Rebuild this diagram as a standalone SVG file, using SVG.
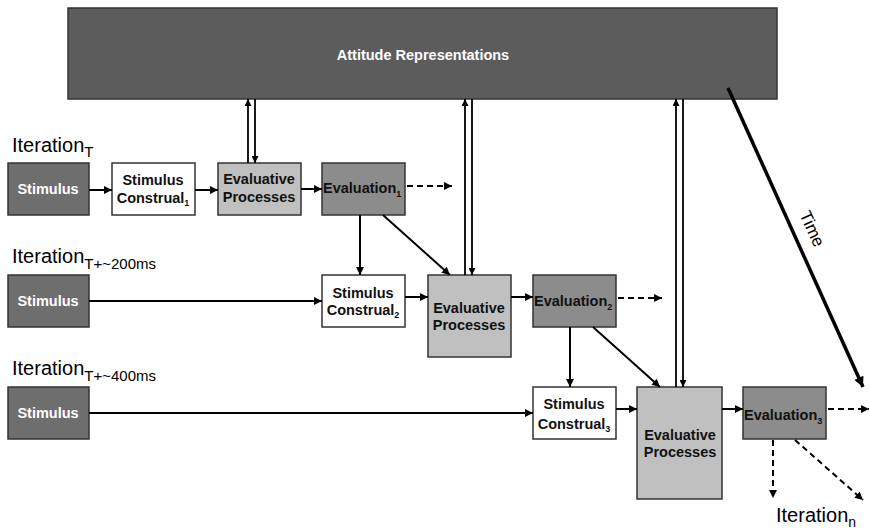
<svg xmlns="http://www.w3.org/2000/svg" width="870" height="532" viewBox="0 0 870 532">
<defs>
<marker id="ah" viewBox="0 0 10 10" refX="10" refY="5" markerWidth="9" markerHeight="8" markerUnits="userSpaceOnUse" orient="auto"><path d="M0,0 L10,5 L0,10 z" fill="#000"/></marker>
<marker id="ahs" viewBox="0 0 10 10" refX="10" refY="5" markerWidth="8" markerHeight="7" markerUnits="userSpaceOnUse" orient="auto"><path d="M0,0 L10,5 L0,10 z" fill="#000"/></marker>
<marker id="ahb" viewBox="0 0 10 10" refX="10" refY="5" markerWidth="12" markerHeight="10" markerUnits="userSpaceOnUse" orient="auto"><path d="M0,0 L10,5 L0,10 z" fill="#000"/></marker>
</defs>
<style>
.box{stroke:#333;stroke-width:1.5}
.stim{fill:#6e6e6e}
.cons{fill:#fff}
.proc{fill:#c0c0c0}
.eval{fill:#8c8c8c}
.bar{fill:#5c5c5c}
.t{font-family:"Liberation Sans",Arial,sans-serif;font-weight:bold;font-size:14.5px;fill:#111}
.tw{font-family:"Liberation Sans",Arial,sans-serif;font-weight:bold;font-size:14.5px;fill:#fff}
.lab{font-family:"Liberation Sans",Arial,sans-serif;font-size:20px;fill:#000}
.c{stroke:#000;stroke-width:2;fill:none;marker-end:url(#ah)}
.d{stroke:#000;stroke-width:2;fill:none;stroke-dasharray:6,4;marker-end:url(#ah)}
.dl{stroke:#000;stroke-width:1.8;fill:none;marker-end:url(#ahs)}
</style>

<g id="attitude">
<rect class="box bar" x="68" y="8" width="709" height="91"/>
<text class="tw" x="423" y="60" text-anchor="middle" font-size="15">Attitude Representations</text>
</g>

<g id="labels">
<text class="lab" x="12" y="152">Iteration<tspan font-size="15" dy="5">T</tspan></text>
<text class="lab" x="12" y="263">Iteration<tspan font-size="15" dy="6">T+~200ms</tspan></text>
<text class="lab" x="12" y="375">Iteration<tspan font-size="15" dy="6">T+~400ms</tspan></text>
<text class="lab" x="776" y="522">Iteration<tspan font-size="14" dy="5">n</tspan></text>
</g>

<g id="stimulus1"><rect class="box stim" x="8" y="163" width="81" height="52"/><text class="tw" x="48" y="194" text-anchor="middle">Stimulus</text></g>
<g id="construal1"><rect class="box cons" x="112" y="163" width="83" height="52"/><text class="t" x="153" y="185" text-anchor="middle">Stimulus</text><text class="t" x="153" y="203" text-anchor="middle">Construal<tspan font-size="9" dy="3">1</tspan></text></g>
<g id="process1"><rect class="box proc" x="218" y="163" width="83" height="52"/><text class="t" x="259" y="184" text-anchor="middle">Evaluative</text><text class="t" x="259" y="202" text-anchor="middle">Processes</text></g>
<g id="evaluation1"><rect class="box eval" x="322" y="163" width="83" height="52"/><text class="t" x="323" y="193">Evaluation<tspan font-size="9" dy="4">1</tspan></text></g>

<g id="stimulus2"><rect class="box stim" x="8" y="275" width="81" height="52"/><text class="tw" x="48" y="306" text-anchor="middle">Stimulus</text></g>
<g id="construal2"><rect class="box cons" x="322" y="275" width="83" height="52"/><text class="t" x="363" y="298" text-anchor="middle">Stimulus</text><text class="t" x="363" y="315" text-anchor="middle">Construal<tspan font-size="9" dy="3">2</tspan></text></g>
<g id="process2"><rect class="box proc" x="428" y="275" width="83" height="82"/><text class="t" x="469" y="313" text-anchor="middle">Evaluative</text><text class="t" x="469" y="330" text-anchor="middle">Processes</text></g>
<g id="evaluation2"><rect class="box eval" x="533" y="275" width="83" height="52"/><text class="t" x="534" y="306">Evaluation<tspan font-size="9" dy="4">2</tspan></text></g>

<g id="stimulus3"><rect class="box stim" x="8" y="387" width="81" height="52"/><text class="tw" x="48" y="418" text-anchor="middle">Stimulus</text></g>
<g id="construal3"><rect class="box cons" x="533" y="387" width="83" height="52"/><text class="t" x="574" y="409" text-anchor="middle">Stimulus</text><text class="t" x="574" y="429" text-anchor="middle">Construal<tspan font-size="9" dy="3">3</tspan></text></g>
<g id="process3"><rect class="box proc" x="637" y="387" width="85" height="112"/><text class="t" x="680" y="440" text-anchor="middle">Evaluative</text><text class="t" x="680" y="457" text-anchor="middle">Processes</text></g>
<g id="evaluation3"><rect class="box eval" x="743" y="387" width="83" height="52"/><text class="t" x="744" y="420">Evaluation<tspan font-size="9" dy="4">3</tspan></text></g>

<g id="connectors">
<line class="c" x1="89" y1="190" x2="112" y2="190"/>
<line class="c" x1="195" y1="190" x2="218" y2="190"/>
<line class="c" x1="301" y1="189" x2="322" y2="189"/>
<line class="d" x1="407" y1="186" x2="452" y2="186"/>

<line class="c" x1="89" y1="301" x2="322" y2="301"/>
<line class="c" x1="405" y1="297" x2="428" y2="297"/>
<line class="c" x1="511" y1="297" x2="533" y2="297"/>
<line class="d" x1="618" y1="298" x2="662" y2="298"/>

<line class="c" x1="89" y1="413" x2="533" y2="413"/>
<line class="c" x1="616" y1="409" x2="637" y2="409"/>
<line class="c" x1="722" y1="409" x2="743" y2="409"/>
<line class="d" x1="828" y1="409" x2="869" y2="409"/>

<line class="c" x1="360" y1="215" x2="360" y2="275"/>
<line class="c" x1="383" y1="215" x2="450" y2="275"/>
<line class="c" x1="570" y1="327" x2="570" y2="387"/>
<line class="c" x1="593" y1="327" x2="660" y2="387"/>

<line class="d" x1="773" y1="440" x2="773" y2="498"/>
<line class="d" x1="795" y1="440" x2="863" y2="500"/>

<line class="dl" x1="248" y1="163" x2="248" y2="99"/>
<line class="dl" x1="255" y1="99" x2="255" y2="163"/>
<line class="dl" x1="465" y1="275" x2="465" y2="99"/>
<line class="dl" x1="472" y1="99" x2="472" y2="275"/>
<line class="dl" x1="676" y1="387" x2="676" y2="99"/>
<line class="dl" x1="683" y1="99" x2="683" y2="387"/>

<line x1="728" y1="88" x2="863" y2="387" stroke="#000" stroke-width="3.5" marker-end="url(#ahb)"/>
</g>

<g id="time">
<text font-family="Liberation Sans, Arial, sans-serif" font-size="17" fill="#000" text-anchor="middle" dominant-baseline="central" transform="translate(812,229) rotate(65.7)">Time</text>
</g>
</svg>
